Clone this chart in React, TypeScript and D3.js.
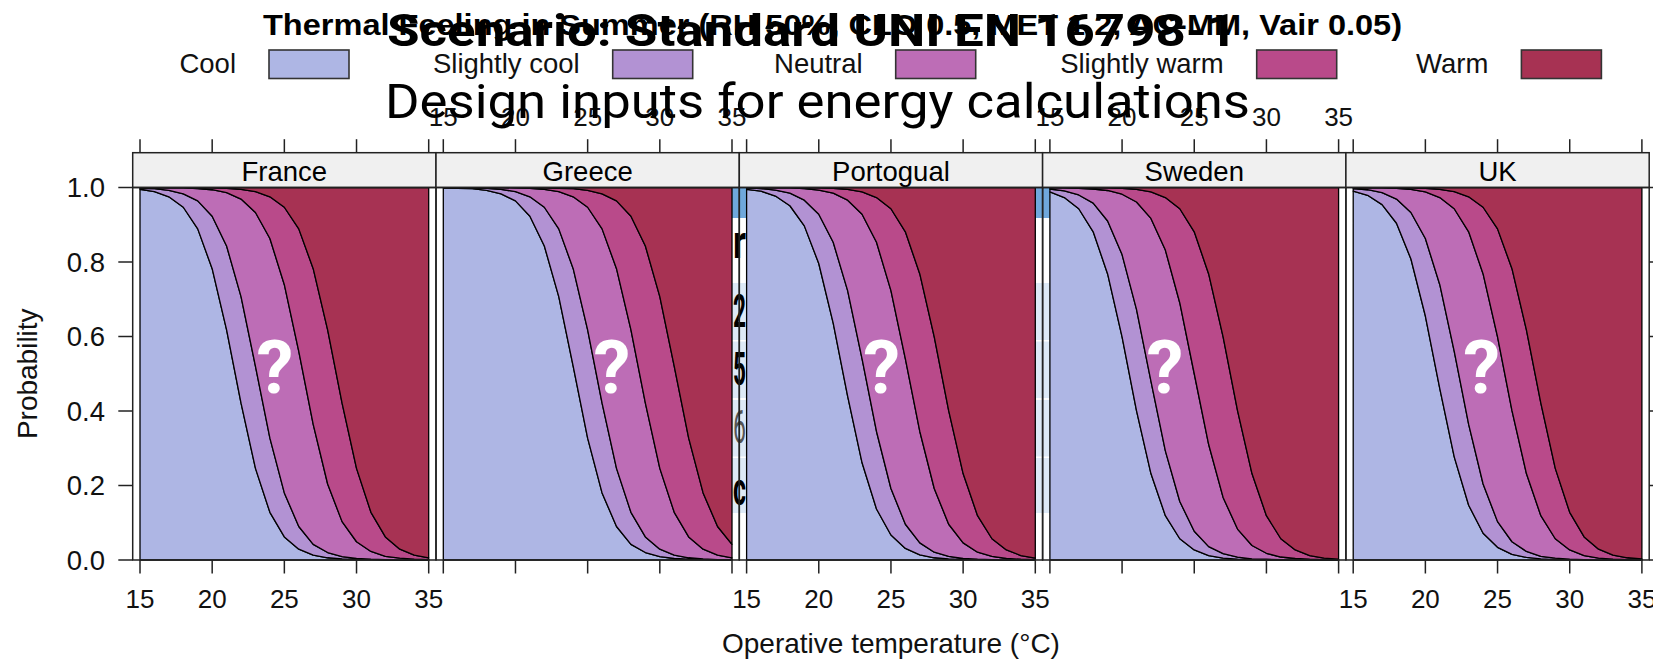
import * as d3 from "d3";
import { useEffect, useRef } from "react";

const temps = [15, 16, 17, 18, 19, 20, 21, 22, 23, 24, 25, 26, 27, 28, 29, 30, 31, 32, 33, 34, 35];
const countries = ["France", "Greece", "Portogual", "Sweden", "UK"];
const levels = ["Cool", "Slightly cool", "Neutral", "Slightly warm", "Warm"];
const xTicks = [15, 20, 25, 30, 35];
const yTicks = [0, 0.2, 0.4, 0.6, 0.8, 1];

// cumulative probability of feeling <= Cool, Slightly cool, Neutral, Slightly warm
const franceCum = [
  [0.995, 0.989, 0.975, 0.947, 0.889, 0.782, 0.618, 0.421, 0.246, 0.128, 0.062, 0.029, 0.013, 0.006, 0.003, 0.001, 0.001, 0, 0, 0, 0],
  [0.998, 0.997, 0.992, 0.983, 0.964, 0.923, 0.843, 0.707, 0.52, 0.327, 0.18, 0.09, 0.042, 0.02, 0.009, 0.004, 0.002, 0.001, 0, 0, 0],
  [1, 1, 0.999, 0.999, 0.997, 0.994, 0.986, 0.969, 0.933, 0.863, 0.739, 0.56, 0.364, 0.204, 0.103, 0.049, 0.023, 0.01, 0.005, 0.002, 0.001],
  [1, 1, 1, 1, 1, 0.999, 0.998, 0.995, 0.989, 0.975, 0.947, 0.889, 0.782, 0.618, 0.421, 0.246, 0.128, 0.062, 0.029, 0.013, 0.006],
];
const greeceCum = [
  [0.999, 0.998, 0.997, 0.992, 0.983, 0.964, 0.923, 0.843, 0.707, 0.52, 0.327, 0.18, 0.09, 0.042, 0.02, 0.009, 0.004, 0.002, 0.001, 0, 0],
  [1, 1, 0.999, 0.998, 0.995, 0.989, 0.975, 0.947, 0.889, 0.782, 0.618, 0.421, 0.246, 0.128, 0.062, 0.029, 0.013, 0.006, 0.003, 0.001, 0.001],
  [1, 1, 1, 1, 1, 0.999, 0.998, 0.995, 0.989, 0.975, 0.947, 0.889, 0.782, 0.618, 0.421, 0.246, 0.128, 0.062, 0.029, 0.013, 0.006],
  [1, 1, 1, 1, 1, 1, 1, 0.999, 0.998, 0.997, 0.992, 0.983, 0.964, 0.923, 0.843, 0.707, 0.52, 0.327, 0.18, 0.09, 0.042],
];
const portugalCum = [
  [0.995, 0.99, 0.977, 0.951, 0.897, 0.796, 0.636, 0.44, 0.261, 0.137, 0.067, 0.031, 0.014, 0.006, 0.003, 0.001, 0.001, 0, 0, 0, 0],
  [0.999, 0.997, 0.993, 0.985, 0.966, 0.928, 0.853, 0.723, 0.54, 0.345, 0.192, 0.096, 0.046, 0.021, 0.01, 0.004, 0.002, 0.001, 0, 0, 0],
  [1, 1, 0.999, 0.999, 0.997, 0.993, 0.985, 0.966, 0.928, 0.853, 0.723, 0.54, 0.345, 0.192, 0.096, 0.046, 0.021, 0.01, 0.004, 0.002, 0.001],
  [1, 1, 1, 1, 0.999, 0.999, 0.998, 0.995, 0.988, 0.973, 0.943, 0.881, 0.768, 0.599, 0.401, 0.232, 0.119, 0.057, 0.027, 0.012, 0.005],
];
const swedenCum = [
  [0.988, 0.973, 0.943, 0.881, 0.768, 0.599, 0.401, 0.232, 0.119, 0.057, 0.027, 0.012, 0.005, 0.002, 0.001, 0, 0, 0, 0, 0, 0],
  [0.996, 0.991, 0.98, 0.958, 0.91, 0.82, 0.673, 0.48, 0.293, 0.157, 0.077, 0.036, 0.017, 0.008, 0.003, 0.002, 0.001, 0, 0, 0, 0],
  [1, 0.999, 0.998, 0.996, 0.992, 0.982, 0.961, 0.917, 0.832, 0.69, 0.5, 0.31, 0.168, 0.083, 0.039, 0.018, 0.008, 0.004, 0.002, 0.001, 0],
  [1, 1, 1, 0.999, 0.999, 0.998, 0.995, 0.988, 0.973, 0.943, 0.881, 0.768, 0.599, 0.401, 0.232, 0.119, 0.057, 0.027, 0.012, 0.005, 0.002],
];
const ukCum = [
  [0.99, 0.979, 0.954, 0.904, 0.808, 0.655, 0.46, 0.277, 0.147, 0.072, 0.034, 0.015, 0.007, 0.003, 0.001, 0.001, 0, 0, 0, 0, 0],
  [0.997, 0.994, 0.986, 0.969, 0.933, 0.863, 0.739, 0.56, 0.364, 0.204, 0.103, 0.049, 0.023, 0.01, 0.005, 0.002, 0.001, 0, 0, 0, 0],
  [1, 0.999, 0.999, 0.998, 0.995, 0.988, 0.973, 0.943, 0.881, 0.768, 0.599, 0.401, 0.232, 0.119, 0.057, 0.027, 0.012, 0.005, 0.002, 0.001, 0],
  [1, 1, 1, 1, 0.999, 0.998, 0.995, 0.989, 0.975, 0.947, 0.889, 0.782, 0.618, 0.421, 0.246, 0.128, 0.062, 0.029, 0.013, 0.006, 0.003],
];
const cumByCountry = [franceCum, greeceCum, portugalCum, swedenCum, ukCum];

const levelColors = ["#aeb6e4", "#b292d3", "#bd6db6", "#b94a8a", "#a73253"];

const title = "Thermal Feeling in Summer (RH 50%, CLO 0.5, MET 1.2, AC-MM, Vair 0.05)";
const overlayTitle = "Scenario: Standard UNI EN 16798-1";
const overlaySub = "Design inputs for energy calculations";
// letters of the table that shows through the gap between Greece and Portogual
const gapLetters = ["r", "2", "5", "6", "c"];

export default function App() {
  const ref = useRef<SVGSVGElement>(null);

  useEffect(() => {
    const svg = d3.select(ref.current);
    svg.selectAll("*").remove();

    const sans = "'Liberation Sans', Arial, Helvetica, sans-serif";
    const roboto = "Roboto, 'Noto Sans', sans-serif";
    const left = 132.7;
    const panelW = 303.3;
    const stripTop = 152.7;
    const top = 187.5;
    const bottom = 560;
    const line = "#222";

    const y = d3.scaleLinear().domain([0, 1]).range([bottom, top]);
    const xFor = (i: number) =>
      d3.scaleLinear().domain([14.494, 35.506]).range([left + i * panelW, left + (i + 1) * panelW]);

    // things behind the chart, visible through the gaps
    const gapA = [xFor(1)(35), xFor(2)(15)];
    const gapB = [xFor(2)(35), xFor(3)(15)];
    const bg = svg.append("g");
    bg.append("rect")
      .attr("x", gapA[0])
      .attr("y", 188)
      .attr("width", gapB[1] - gapA[0])
      .attr("height", 30)
      .attr("fill", "#6fa8dc");
    [[283, 340], [341.5, 398], [400, 456.5], [458, 513]].forEach(([a, b]) => {
      bg.append("rect")
        .attr("x", gapA[0])
        .attr("y", a)
        .attr("width", gapB[1] - gapA[0])
        .attr("height", b - a)
        .attr("fill", "#dde9f6");
    });
    svg
      .append("clipPath")
      .attr("id", "gapclip")
      .append("rect")
      .attr("x", gapA[0])
      .attr("y", top)
      .attr("width", gapA[1] - gapA[0])
      .attr("height", bottom - top);
    const letterBase = [258, 327, 385, 443, 505];
    const lg = bg.append("g").attr("clip-path", "url(#gapclip)");
    gapLetters.forEach((ch, k) => {
      lg.append("text")
        .attr("x", gapA[0] + 1)
        .attr("y", letterBase[k])
        .attr("font-family", roboto)
        .attr("font-weight", ch === "6" ? 400 : 700)
        .attr("font-size", 46)
        .attr("fill", ch === "6" ? "#555" : "#000")
        .attr("textLength", 13)
        .attr("lengthAdjust", "spacingAndGlyphs")
        .text(ch);
    });

    const qx = [275, 612, 881.7, 1165, 1481.7];

    countries.forEach((name, i) => {
      const x = xFor(i);
      const x0 = left + i * panelW;
      const cum = cumByCountry[i];
      const lower = [temps.map(() => 0), ...cum];
      const upper = [...cum, temps.map(() => 1)];
      const g = svg.append("g");

      levels.forEach((_, k) => {
        const area = d3
          .area<number>()
          .x((t) => x(t))
          .y0((_, j) => y(lower[k][j]))
          .y1((_, j) => y(upper[k][j]));
        g.append("path")
          .attr("d", area(temps) as string)
          .attr("fill", levelColors[k])
          .attr("stroke", "#000")
          .attr("stroke-width", 1.3)
          .attr("stroke-linejoin", "round");
      });

      g.append("text")
        .attr("x", qx[i])
        .attr("y", 393)
        .attr("text-anchor", "middle")
        .attr("font-family", roboto)
        .attr("font-weight", 700)
        .attr("font-size", 74)
        .attr("fill", "#fff")
        .text("?");

      // strip
      g.append("rect")
        .attr("x", x0)
        .attr("y", stripTop)
        .attr("width", panelW)
        .attr("height", top - stripTop)
        .attr("fill", "#f0f0f0")
        .attr("stroke", line)
        .attr("stroke-width", 1.5);
      g.append("text")
        .attr("x", x0 + panelW / 2)
        .attr("y", 180.5)
        .attr("text-anchor", "middle")
        .attr("font-family", sans)
        .attr("font-size", 27.5)
        .attr("fill", "#000")
        .text(name);

      // panel border
      g.append("rect")
        .attr("x", x0)
        .attr("y", top)
        .attr("width", panelW)
        .attr("height", bottom - top)
        .attr("fill", "none")
        .attr("stroke", line)
        .attr("stroke-width", 1.5);

      // x ticks, labels alternate bottom / top
      xTicks.forEach((t) => {
        g.append("line")
          .attr("x1", x(t))
          .attr("x2", x(t))
          .attr("y1", bottom)
          .attr("y2", bottom + 13.5)
          .attr("stroke", line)
          .attr("stroke-width", 1.5);
        g.append("line")
          .attr("x1", x(t))
          .attr("x2", x(t))
          .attr("y1", stripTop)
          .attr("y2", stripTop - 13.5)
          .attr("stroke", line)
          .attr("stroke-width", 1.5);
        g.append("text")
          .attr("x", x(t))
          .attr("y", i % 2 === 0 ? 607.5 : 126)
          .attr("text-anchor", "middle")
          .attr("font-family", sans)
          .attr("font-size", 26)
          .attr("fill", "#111")
          .text(t);
      });
    });

    // y axis: labels on the left, ticks also on the right
    const xRight = left + countries.length * panelW;
    yTicks.forEach((v) => {
      svg.append("line")
        .attr("x1", left - 14.4)
        .attr("x2", left)
        .attr("y1", y(v))
        .attr("y2", y(v))
        .attr("stroke", line)
        .attr("stroke-width", 1.5);
      svg.append("line")
        .attr("x1", xRight)
        .attr("x2", xRight + 14.4)
        .attr("y1", y(v))
        .attr("y2", y(v))
        .attr("stroke", line)
        .attr("stroke-width", 1.5);
      svg.append("text")
        .attr("x", 105)
        .attr("y", y(v) + 9.5)
        .attr("text-anchor", "end")
        .attr("font-family", sans)
        .attr("font-size", 27.5)
        .attr("fill", "#111")
        .text(d3.format(".1f")(v));
    });

    svg.append("text")
      .attr("transform", `translate(37,${(top + bottom) / 2}) rotate(-90)`)
      .attr("text-anchor", "middle")
      .attr("font-family", sans)
      .attr("font-size", 28)
      .attr("fill", "#111")
      .text("Probability");

    svg.append("text")
      .attr("x", left + (countries.length * panelW) / 2)
      .attr("y", 653)
      .attr("text-anchor", "middle")
      .attr("font-family", sans)
      .attr("font-size", 28)
      .attr("fill", "#111")
      .text("Operative temperature (°C)");

    // legend
    const boxX = [269, 612.7, 895.7, 1256.7, 1521.4];
    levels.forEach((lv, k) => {
      svg.append("rect")
        .attr("x", boxX[k])
        .attr("y", 50)
        .attr("width", 80)
        .attr("height", 28.5)
        .attr("fill", levelColors[k])
        .attr("stroke", "#333")
        .attr("stroke-width", 1.6);
      svg.append("text")
        .attr("x", boxX[k] - 33)
        .attr("y", 73)
        .attr("text-anchor", "end")
        .attr("font-family", sans)
        .attr("font-size", 27.5)
        .attr("fill", "#111")
        .text(lv);
    });

    svg.append("text")
      .attr("x", 263)
      .attr("y", 35)
      .attr("font-family", sans)
      .attr("font-weight", 700)
      .attr("font-size", 30)
      .attr("textLength", 1139)
      .attr("lengthAdjust", "spacingAndGlyphs")
      .attr("fill", "#000")
      .text(title);

    // overlaid scenario captions
    svg.append("text")
      .attr("x", 387)
      .attr("y", 46)
      .attr("font-family", roboto)
      .attr("font-weight", 700)
      .attr("font-size", 44)
      .attr("textLength", 850)
      .attr("lengthAdjust", "spacingAndGlyphs")
      .attr("fill", "#000")
      .text(overlayTitle);
    svg.append("text")
      .attr("x", 385)
      .attr("y", 118)
      .attr("font-family", roboto)
      .attr("font-size", 49)
      .attr("textLength", 865)
      .attr("lengthAdjust", "spacingAndGlyphs")
      .attr("fill", "#000")
      .text(overlaySub);
  }, []);

  return (
    <svg
      ref={ref}
      width={1653}
      height={661}
      style={{ position: "absolute", left: 0, top: 0, background: "#fff" }}
    />
  );
}
